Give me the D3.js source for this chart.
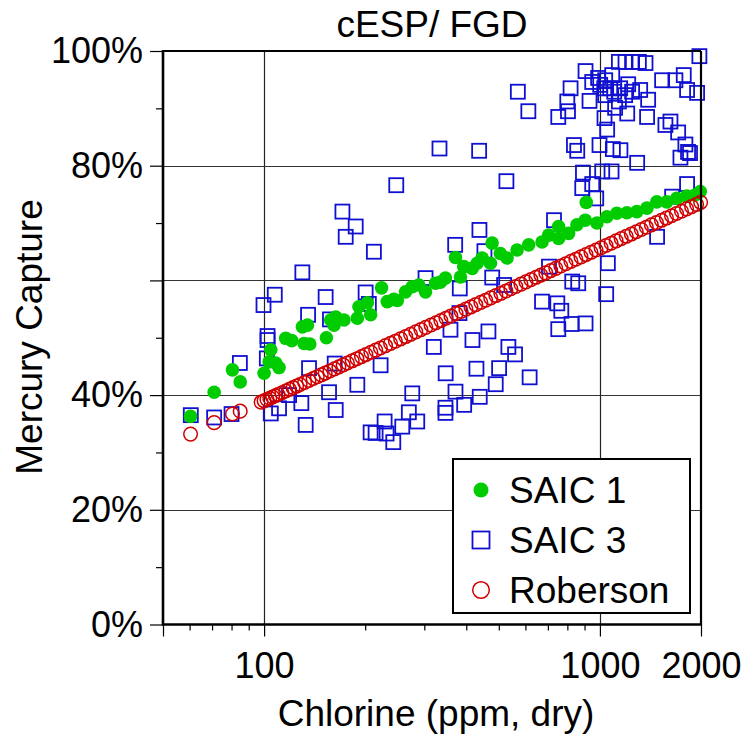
<!DOCTYPE html>
<html><head><meta charset="utf-8">
<script src="https://cdn.jsdelivr.net/npm/d3@7"></script>
<style>body{margin:0;background:#fff}</style>
</head><body><svg id="c" width="744" height="740"></svg>
<script>
// ---------- data ----------
const title = "cESP/ FGD";
const xTitle = "Chlorine (ppm, dry)";
const yTitle = "Mercury Capture";
const seriesNames = ["SAIC 1", "SAIC 3", "Roberson"];

const xTicks = [50, 100, 1000, 2000];
const xTickLabels = ["", "100", "1000", "2000"];
const xMinorTicks = [60, 70, 80, 90, 200, 300, 400, 500, 600, 700, 800, 900];
const xGrid = [100, 1000];
const yTicks = [0, 20, 40, 60, 80, 100];
const yTickLabels = ["0%", "20%", "40%", "", "80%", "100%"];
const yMinorTicks = [10, 30, 50, 70, 90];
const yGrid = [20, 40, 60, 80];

const saic1X = [60.4,71.0,80.5,84.9,100,103.5,104.7,108.3,110.8,116,120.9,130,131.5,134.6,136.8,153.3,157.9,161.5,163.4,172.9,189.5,191.6,203,207.6,223.8,232.7,243.4,249.3,263.8,276.2,288.9,302.5,323.9,335,346.8,371.5,384.4,393.2,416.7,430.9,445.9,472,477.5,505.3,529,566.7,613.5,672.5,703.5,753.3,753.3,806.6,854.3,904.4,910.6,979.7,1049,1123,1203,1288,1380,1477,1582,1694,1814,1920,1990];
const saic1Y = [36.3,40.5,44.4,42.3,43.8,45.8,47.9,45.6,44.8,49.9,49.5,51.9,49.0,52.2,48.9,50.0,53.1,52.2,53.6,53.1,53.4,55.4,56.1,54.0,58.7,56.3,56.7,56.5,58.0,58.9,59.2,58.0,59.5,59.7,60.4,64.0,60.6,62.4,62.1,63.0,63.9,63.0,66.5,64.7,63.9,65.3,66.2,66.7,67.9,69.4,67.3,68.2,69.7,70.5,73.6,70.0,71.1,71.7,71.8,72.0,72.6,73.7,73.7,74.3,74.7,74.9,75.5];

const saic3X = [60.5,71.0,80.0,84.7,99.6,107.6,102.4,102.4,101.9,104.7,
110.8,118.7,129.1,130.0,135.2,136.1,133.0,152.5,157.1,156.1,
163.4,162.3,171.1,175.0,187.4,189.5,200.6,205.1,212.3,207.6,
214.8,228.5,231.6,242.5,222.3,247.5,257.9,269.8,276.2,285.8,
302.5,320.2,332.9,346.8,346.8,347.3,371.5,370.7,358.9,381.8,
382.6,394.3,417.3,428.9,436.9,437.8,438.7,453.0,465.6,477.9,
489.5,501.0,518.4,526.7,533.9,558.9,569.7,612.2,617.6,672.5,
705.3,730.0,746.7,751.7,767.4,823.3,827.3,861.9,906.2,1044,
1056,751.7,799.6,803.4,817.8,837.0,856.1,890.3,886.0,948.7,
975.0,906.2,931.3,948.7,997.3,1016,1083,1032,1051,1093,
1151,1139,1206,1291,1382,1532,1678,1777,1818,1947,
1978,1567,1622,1710,1797,1830,1737,1818,1641,1480,
1139,1192,1306,1367,1247,1002,1037,1073,988,1103,
1149,1189,1247,1214,1037,1088,1030,1110,1318,1392,
1855];
const saic3Y = [36.5,36.1,36.7,45.6,55.7,57.5,50.3,49.6,46.4,36.8,
37.7,40.0,38.6,61.4,54.0,44.7,34.8,57.1,53.2,40.5,
37.4,45.5,72.0,67.6,69.4,41.8,57.9,55.9,65.0,33.5,
33.4,35.4,33.3,31.8,45.2,76.6,34.5,37.0,40.3,35.4,
60.4,48.4,83.0,37.8,36.9,43.8,40.6,66.2,51.4,54.3,
58.6,38.3,49.6,44.6,82.6,68.8,39.7,65.1,51.1,60.5,
41.9,44.7,59.2,77.3,48.4,47.1,92.9,89.5,43.1,56.3,
62.4,70.5,56.0,51.5,54.7,52.4,59.8,59.5,52.5,57.6,
63.0,88.5,91.2,89.5,93.5,83.6,82.6,78.8,76.1,76.8,
74.3,96.5,91.3,94.6,83.6,79.0,79.0,88.3,86.3,82.9,
82.7,91.2,89.1,80.5,88.5,94.9,94.9,95.8,93.2,92.7,
99.1,87.1,87.7,85.8,83.7,82.4,81.4,76.8,74.6,67.6,
98.1,98.1,98.1,97.9,98.1,94.1,94.9,93.5,95.3,92.9,
93.5,92.3,92.9,94.2,92.3,95.8,93.5,90.1,93.2,91.5,
82.2];

const robX = [60.4,71,80.5,84.9,98,100,102,104,106,108,110,113,116,119,122,125,128,132,136,140,144,148,152,157,162,167,172,177,183,189,195,201,208,215,222,230,238,246,255,264,273,283,293,303,314,325,336,348,360,373,386,399,413,427,442,457,473,490,507,525,543,562,582,602,623,645,667,690,714,739,765,792,820,848,878,909,941,974,1008,1043,1080,1118,1157,1198,1240,1283,1328,1375,1423,1473,1525,1578,1634,1691,1750,1812,1875,1941,1995];
const robY = [33.2,35.2,36.7,37.2,38.77,39.0,39.23,39.45,39.67,39.89,40.10,40.41,40.72,41.01,41.30,41.58,41.85,42.21,42.55,42.89,43.21,43.53,43.84,44.21,44.57,44.92,45.26,45.60,45.98,46.35,46.71,47.07,47.46,47.84,48.21,48.62,49.02,49.40,49.81,50.21,50.60,51.02,51.42,51.81,52.22,52.62,53.00,53.41,53.80,54.21,54.60,54.99,55.39,55.77,56.17,56.55,56.95,57.36,57.75,58.16,58.55,58.94,59.35,59.74,60.13,60.54,60.92,61.31,61.71,62.10,62.51,62.91,63.31,63.70,64.10,64.50,64.90,65.30,65.69,66.09,66.49,66.89,67.28,67.69,68.08,68.48,68.88,69.28,69.68,70.07,70.48,70.87,71.27,71.67,72.06,72.47,72.86,73.26,73.61];

// ---------- chart ----------
const font = '"Liberation Sans", Arial, Helvetica, sans-serif';
const m = {l:163, r:701, t:51, b:624.5};
const x = d3.scaleLog().domain([50, 2000]).range([m.l, m.r]);
const y = d3.scaleLinear().domain([0, 100]).range([m.b, m.t]);
const svg = d3.select('#c');
const blue = '#1010d0', green = '#00cc00', red = '#d00000';

// grid
svg.append('g').selectAll('line').data(xGrid).join('line')
  .attr('x1', d => Math.round(x(d)) + 0.5).attr('x2', d => Math.round(x(d)) + 0.5)
  .attr('y1', m.t).attr('y2', m.b).attr('stroke', '#222').attr('stroke-width', 1.2);
svg.append('g').selectAll('line').data(yGrid).join('line')
  .attr('y1', d => Math.round(y(d)) + 0.5).attr('y2', d => Math.round(y(d)) + 0.5)
  .attr('x1', m.l).attr('x2', m.r).attr('stroke', '#333').attr('stroke-width', 1.2);

// SAIC 3 squares
const s3 = saic3X.map((v, i) => [v, saic3Y[i]]);
const sq = 14;
svg.append('g').selectAll('rect').data(s3).join('rect')
  .attr('x', d => x(d[0]) - sq/2).attr('y', d => y(d[1]) - sq/2)
  .attr('width', sq).attr('height', sq)
  .attr('fill', 'none').attr('stroke', blue).attr('stroke-width', 1.8);

// SAIC 1 dots
const s1 = saic1X.map((v, i) => [v, saic1Y[i]]);
svg.append('g').selectAll('circle').data(s1).join('circle')
  .attr('cx', d => x(d[0])).attr('cy', d => y(d[1])).attr('r', 6.8)
  .attr('fill', green);

// Roberson circles
const rb = robX.map((v, i) => [v, robY[i]]);
svg.append('g').selectAll('circle').data(rb).join('circle')
  .attr('cx', d => x(d[0])).attr('cy', d => y(d[1])).attr('r', 6.8)
  .attr('fill', 'none').attr('stroke', red).attr('stroke-width', 1.5);

// frame top/right
svg.append('line').attr('x1', m.l).attr('x2', m.r).attr('y1', m.t).attr('y2', m.t)
  .attr('stroke', '#000').attr('stroke-width', 2.2);
svg.append('line').attr('x1', m.r).attr('x2', m.r).attr('y1', m.t).attr('y2', m.b)
  .attr('stroke', '#000').attr('stroke-width', 2.2);

// y axis
const yAx = svg.append('g').attr('transform', `translate(${m.l},0)`)
  .call(d3.axisLeft(y).tickValues(yTicks).tickSize(13).tickPadding(7)
    .tickFormat((d, i) => yTickLabels[i]));
yAx.select('.domain').remove();
yAx.selectAll('line').attr('stroke-width', 1.2);
yAx.selectAll('text').attr('font-family', font).attr('font-size', 36).attr('fill', '#000');
const yMin = svg.append('g').attr('transform', `translate(${m.l},0)`)
  .call(d3.axisLeft(y).tickValues(yMinorTicks).tickSize(7).tickFormat(''));
yMin.select('.domain').remove();
yMin.selectAll('line').attr('stroke-width', 1.2);

// x axis
const xAx = svg.append('g').attr('transform', `translate(0,${m.b})`)
  .call(d3.axisBottom(x).tickValues(xTicks).tickSize(12).tickPadding(16)
    .tickFormat((d, i) => xTickLabels[i]));
xAx.select('.domain').remove();
xAx.selectAll('line').attr('stroke-width', 1.2);
xAx.selectAll('text').attr('font-family', font).attr('font-size', 36).attr('fill', '#000');
const xMin = svg.append('g').attr('transform', `translate(0,${m.b})`)
  .call(d3.axisBottom(x).tickValues(xMinorTicks).tickSize(6).tickFormat(''));
xMin.select('.domain').remove();
xMin.selectAll('line').attr('stroke-width', 1.2);

// axis lines
svg.append('line').attr('x1', m.l).attr('x2', m.l).attr('y1', m.t - 1).attr('y2', m.b + 1)
  .attr('stroke', '#000').attr('stroke-width', 2.6);
svg.append('line').attr('x1', m.l - 1).attr('x2', m.r + 1).attr('y1', m.b).attr('y2', m.b)
  .attr('stroke', '#000').attr('stroke-width', 2.6);

// titles
svg.append('text').attr('x', 432).attr('y', 37).attr('text-anchor', 'middle')
  .attr('font-family', font).attr('font-size', 37).text(title);
svg.append('text').attr('x', 436).attr('y', 726).attr('text-anchor', 'middle')
  .attr('font-family', font).attr('font-size', 37).text(xTitle);
svg.append('text').attr('transform', 'translate(42,337) rotate(-90)').attr('text-anchor', 'middle')
  .attr('font-family', font).attr('font-size', 37).text(yTitle);

// legend
const lg = svg.append('g');
lg.append('rect').attr('x', 453).attr('y', 459).attr('width', 237).attr('height', 154)
  .attr('fill', '#fff').attr('stroke', '#000').attr('stroke-width', 2);
const rows = [503, 553, 603];
const sx = 481;
lg.append('circle').attr('cx', sx).attr('cy', rows[0] - 13).attr('r', 7.5).attr('fill', green);
lg.append('rect').attr('x', sx - 8.5).attr('y', rows[1] - 13 - 8.5).attr('width', 17).attr('height', 17)
  .attr('fill', 'none').attr('stroke', blue).attr('stroke-width', 1.8);
lg.append('circle').attr('cx', sx).attr('cy', rows[2] - 13).attr('r', 8.3)
  .attr('fill', 'none').attr('stroke', red).attr('stroke-width', 1.5);
seriesNames.forEach((n, i) => {
  lg.append('text').attr('x', 509).attr('y', rows[i]).attr('font-family', font)
    .attr('font-size', 37).text(n);
});
</script></body></html>
